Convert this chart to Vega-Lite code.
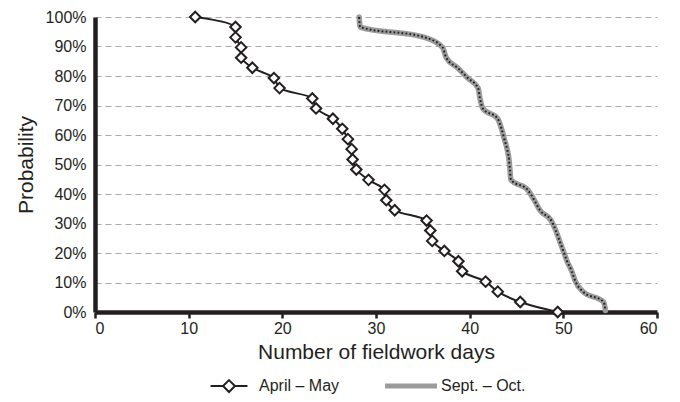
{
  "$schema": "https://vega.github.io/schema/vega-lite/v6.json",
  "width": 562,
  "height": 295,
  "autosize": {"type": "none"},
  "padding": {"left": 95, "top": 17, "right": 23, "bottom": 90},
  "background": "white",
  "config": {
    "view": {"stroke": null},
    "font": "Liberation Sans",
    "axis": {"labelColor": "#231f20", "titleColor": "#231f20", "titleFontWeight": "normal", "labelFont": "Liberation Sans", "titleFont": "Liberation Sans"},
    "legend": {"labelColor": "#231f20", "labelFont": "Liberation Sans"}
  },
  "datasets": {
    "pts": [
      {"series": "April – May", "i": 1, "days": 10.7, "p": 100},
      {"series": "April – May", "i": 2, "days": 15.0, "p": 96.6},
      {"series": "April – May", "i": 3, "days": 15.0, "p": 93.1},
      {"series": "April – May", "i": 4, "days": 15.6, "p": 89.7},
      {"series": "April – May", "i": 5, "days": 15.6, "p": 86.2},
      {"series": "April – May", "i": 6, "days": 16.8, "p": 82.8},
      {"series": "April – May", "i": 7, "days": 19.1, "p": 79.3},
      {"series": "April – May", "i": 8, "days": 19.7, "p": 75.9},
      {"series": "April – May", "i": 9, "days": 23.2, "p": 72.4},
      {"series": "April – May", "i": 10, "days": 23.6, "p": 69.0},
      {"series": "April – May", "i": 11, "days": 25.4, "p": 65.5},
      {"series": "April – May", "i": 12, "days": 26.4, "p": 62.1},
      {"series": "April – May", "i": 13, "days": 27.0, "p": 58.6},
      {"series": "April – May", "i": 14, "days": 27.4, "p": 55.2},
      {"series": "April – May", "i": 15, "days": 27.5, "p": 51.7},
      {"series": "April – May", "i": 16, "days": 27.9, "p": 48.3},
      {"series": "April – May", "i": 17, "days": 29.2, "p": 44.8},
      {"series": "April – May", "i": 18, "days": 30.9, "p": 41.4},
      {"series": "April – May", "i": 19, "days": 31.1, "p": 37.9},
      {"series": "April – May", "i": 20, "days": 32.0, "p": 34.5},
      {"series": "April – May", "i": 21, "days": 35.4, "p": 31.0},
      {"series": "April – May", "i": 22, "days": 35.8, "p": 27.6},
      {"series": "April – May", "i": 23, "days": 36.0, "p": 24.1},
      {"series": "April – May", "i": 24, "days": 37.3, "p": 20.7},
      {"series": "April – May", "i": 25, "days": 38.8, "p": 17.2},
      {"series": "April – May", "i": 26, "days": 39.2, "p": 13.8},
      {"series": "April – May", "i": 27, "days": 41.7, "p": 10.3},
      {"series": "April – May", "i": 28, "days": 43.0, "p": 6.9},
      {"series": "April – May", "i": 29, "days": 45.4, "p": 3.4},
      {"series": "April – May", "i": 30, "days": 49.4, "p": 0},
      {"series": "Sept. – Oct.", "i": 1, "days": 28.2, "p": 100},
      {"series": "Sept. – Oct.", "i": 2, "days": 28.3, "p": 96.6},
      {"series": "Sept. – Oct.", "i": 3, "days": 35.2, "p": 93.1},
      {"series": "Sept. – Oct.", "i": 4, "days": 37.1, "p": 89.7},
      {"series": "Sept. – Oct.", "i": 5, "days": 37.5, "p": 86.2},
      {"series": "Sept. – Oct.", "i": 6, "days": 38.7, "p": 82.8},
      {"series": "Sept. – Oct.", "i": 7, "days": 39.8, "p": 79.3},
      {"series": "Sept. – Oct.", "i": 8, "days": 40.9, "p": 75.9},
      {"series": "Sept. – Oct.", "i": 9, "days": 41.1, "p": 72.4},
      {"series": "Sept. – Oct.", "i": 10, "days": 41.4, "p": 69.0},
      {"series": "Sept. – Oct.", "i": 11, "days": 43.0, "p": 65.5},
      {"series": "Sept. – Oct.", "i": 12, "days": 43.4, "p": 62.1},
      {"series": "Sept. – Oct.", "i": 13, "days": 43.7, "p": 58.6},
      {"series": "Sept. – Oct.", "i": 14, "days": 44.0, "p": 55.2},
      {"series": "Sept. – Oct.", "i": 15, "days": 44.2, "p": 51.7},
      {"series": "Sept. – Oct.", "i": 16, "days": 44.3, "p": 48.3},
      {"series": "Sept. – Oct.", "i": 17, "days": 44.4, "p": 44.8},
      {"series": "Sept. – Oct.", "i": 18, "days": 46.2, "p": 41.4},
      {"series": "Sept. – Oct.", "i": 19, "days": 46.9, "p": 37.9},
      {"series": "Sept. – Oct.", "i": 20, "days": 47.5, "p": 34.5},
      {"series": "Sept. – Oct.", "i": 21, "days": 48.7, "p": 31.0},
      {"series": "Sept. – Oct.", "i": 22, "days": 49.2, "p": 27.6},
      {"series": "Sept. – Oct.", "i": 23, "days": 49.6, "p": 24.1},
      {"series": "Sept. – Oct.", "i": 24, "days": 50.0, "p": 20.7},
      {"series": "Sept. – Oct.", "i": 25, "days": 50.4, "p": 17.2},
      {"series": "Sept. – Oct.", "i": 26, "days": 50.9, "p": 13.8},
      {"series": "Sept. – Oct.", "i": 27, "days": 51.3, "p": 10.3},
      {"series": "Sept. – Oct.", "i": 28, "days": 52.1, "p": 6.9},
      {"series": "Sept. – Oct.", "i": 29, "days": 54.3, "p": 3.4},
      {"series": "Sept. – Oct.", "i": 30, "days": 54.5, "p": 0.5}
    ]
  },
  "data": {"name": "pts"},
  "encoding": {
    "x": {
      "field": "days", "type": "quantitative",
      "scale": {"domain": [0, 60], "nice": false},
      "axis": {
        "values": [0, 10, 20, 30, 40, 50, 60],
        "title": "Number of fieldwork days", "titleFontSize": 21, "titlePadding": 5,
        "labelFontSize": 16, "labelPadding": 2,
        "grid": false, "domainColor": "#231f20", "domainWidth": 4.5,
        "tickColor": "#231f20", "tickWidth": 2.5, "tickSize": 6
      }
    },
    "y": {
      "field": "p", "type": "quantitative",
      "scale": {"domain": [0, 100], "nice": false},
      "axis": {
        "values": [0, 10, 20, 30, 40, 50, 60, 70, 80, 90, 100],
        "labelExpr": "datum.value + '%'",
        "title": "Probability", "titleFontSize": 21, "titlePadding": 9,
        "labelFontSize": 16, "labelPadding": 9, "ticks": false,
        "domainColor": "#231f20", "domainWidth": 4.5,
        "grid": true, "gridColor": "#aaaaaa", "gridDash": [6, 4], "gridWidth": 1
      }
    },
    "order": {"field": "i"}
  },
  "layer": [
    {
      "transform": [{"filter": "datum.series === 'Sept. – Oct.'"}],
      "mark": {"type": "line", "strokeWidth": 5.5, "interpolate": "monotone", "strokeCap": "round"},
      "encoding": {
        "color": {
          "field": "series", "type": "nominal",
          "scale": {"domain": ["April – May", "Sept. – Oct."], "range": ["#231f20", "#9b9b9b"]},
          "legend": {
            "orient": "none", "legendX": 126, "legendY": 361, "direction": "horizontal",
            "title": null, "symbolSize": 1936, "labelFontSize": 16, "labelOffset": 22,
            "columnPadding": 35, "symbolStrokeWidth": 2,
            "encode": {
              "symbols": {
                "update": {
                  "shape": {"signal": "datum.value === 'April – May' ? 'M-0.84,0H-0.27M0.27,0H0.84M0,-0.27L0.27,0L0,0.27L-0.27,0Z' : 'M-1.18,0H1.18'"},
                  "strokeWidth": {"signal": "datum.value === 'April – May' ? 2 : 5"},
                  "fill": {"value": "white"}
                }
              }
            }
          }
        }
      }
    },
    {
      "transform": [{"filter": "datum.series === 'Sept. – Oct.'"}],
      "mark": {"type": "line", "strokeWidth": 2, "color": "#222222", "strokeDash": [1.8, 2.2], "interpolate": "monotone"}
    },
    {
      "transform": [{"filter": "datum.series === 'April – May'"}],
      "mark": {"type": "line", "strokeWidth": 2, "interpolate": "catmull-rom"},
      "encoding": {
        "color": {"field": "series", "type": "nominal"}
      }
    },
    {
      "transform": [{"filter": "datum.series === 'April – May'"}],
      "mark": {"type": "point", "shape": "diamond", "filled": true, "fill": "white", "stroke": "#231f20", "strokeWidth": 2, "size": 110, "opacity": 1, "clip": false}
    }
  ]
}
